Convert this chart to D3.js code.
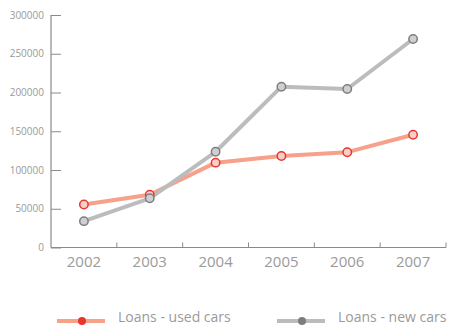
<!DOCTYPE html>
<html>
<head>
<meta charset="utf-8">
<script src="https://cdn.jsdelivr.net/npm/d3@7"></script>
<style>
  html, body { margin: 0; padding: 0; background: #fff; }
  svg { display: block; font-family: "Open Sans", sans-serif; }
</style>
</head>
<body>
<svg id="chart" width="454" height="327"></svg>
<script>
// Loan volumes by year
const years = ["2002", "2003", "2004", "2005", "2006", "2007"];
const usedCars = [55500, 68000, 109500, 118000, 123000, 145500];
const newCars = [34000, 63500, 123500, 207500, 204500, 269000];
const yTicks = [0, 50000, 100000, 150000, 200000, 250000, 300000];
const seriesNames = ["Loans - used cars", "Loans - new cars"];

const svg = d3.select("#chart");
const plotLeft = 51, plotRight = 446, plotTop = 15, plotBottom = 247.5;

const x = d3.scaleBand().domain(years).range([plotLeft, plotRight]);
const y = d3.scaleLinear().domain([0, 300000]).range([plotBottom, plotTop]);

const axisColor = "#8a8a8a";
const textColor = "#9a9a9a";

// Y axis: vertical line with ticks pointing right
const yAxis = svg.append("g").attr("transform", `translate(${plotLeft},0)`)
  .call(d3.axisRight(y).tickValues(yTicks).tickSize(10).tickFormat(""));
yAxis.select(".domain").remove();
yAxis.selectAll(".tick line").attr("stroke", axisColor).attr("stroke-width", 1);
svg.append("line").attr("x1", plotLeft).attr("x2", plotLeft).attr("y1", y(300000)).attr("y2", plotBottom)
  .attr("stroke", axisColor).attr("stroke-width", 1.2);
svg.append("g").selectAll("text").data(yTicks).join("text")
  .attr("x", plotLeft - 7).attr("y", d => y(d)).attr("dy", "0.35em")
  .attr("text-anchor", "end").attr("font-size", 10).attr("fill", textColor)
  .text(d => d);

// X axis: baseline with short upward ticks at band edges
svg.append("line").attr("x1", plotLeft).attr("x2", plotRight).attr("y1", plotBottom).attr("y2", plotBottom)
  .attr("stroke", axisColor).attr("stroke-width", 1.2);
svg.append("g").selectAll("line").data(years).join("line")
  .attr("x1", d => x(d) + x.bandwidth()).attr("x2", d => x(d) + x.bandwidth())
  .attr("y1", plotBottom).attr("y2", plotBottom - 5)
  .attr("stroke", axisColor).attr("stroke-width", 1);
svg.append("g").selectAll("text").data(years).join("text")
  .attr("x", d => x(d) + x.bandwidth() / 2).attr("y", 267)
  .attr("text-anchor", "middle").attr("font-size", 15).attr("fill", textColor)
  .text(d => d);

const series = [
  { name: seriesNames[0], values: usedCars, line: "#f7a08a", ring: "#e8362b", fill: "#f6d0c8" },
  { name: seriesNames[1], values: newCars, line: "#bcbcbe", ring: "#7d7d7f", fill: "#cfcfd1" }
];

const line = d3.line().x((d, i) => x(years[i]) + x.bandwidth() / 2).y(d => y(d));

series.forEach(s => {
  svg.append("path").datum(s.values).attr("d", line)
    .attr("fill", "none").attr("stroke", s.line).attr("stroke-width", 4)
    .attr("stroke-linejoin", "round");
});
series.forEach(s => {
  const g = svg.append("g");
  g.selectAll("circle").data(s.values).join("circle")
    .attr("cx", (d, i) => x(years[i]) + x.bandwidth() / 2).attr("cy", d => y(d))
    .attr("r", 4.2).attr("fill", s.fill).attr("stroke", s.ring).attr("stroke-width", 1.5);
});

// Legend
const legendItems = [
  { s: series[0], x0: 57, dot: "#e8362b", tx: 118 },
  { s: series[1], x0: 277, dot: "#7d7d7f", tx: 338 }
];
legendItems.forEach(it => {
  svg.append("line").attr("x1", it.x0).attr("x2", it.x0 + 48).attr("y1", 321).attr("y2", 321)
    .attr("stroke", it.s.line).attr("stroke-width", 4);
  svg.append("circle").attr("cx", it.x0 + 25).attr("cy", 321).attr("r", 4).attr("fill", it.dot);
  svg.append("text").attr("x", it.tx).attr("y", 322)
    .attr("font-size", 14).attr("fill", textColor).text(it.s.name);
});
</script>
</body>
</html>
